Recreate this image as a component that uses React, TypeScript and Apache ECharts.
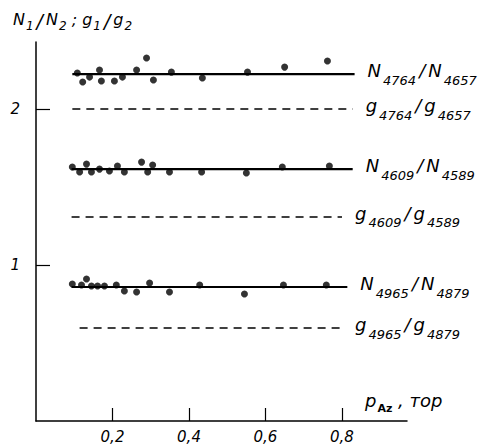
import React, { useEffect, useRef } from "react";
import * as echarts from "echarts";

const F = '"DejaVu Sans", sans-serif';

// measured points (x: pressure, y: ratio)
const n4764X = [0.108, 0.122, 0.14, 0.166, 0.171, 0.205, 0.226, 0.263, 0.289, 0.307, 0.354, 0.435, 0.553, 0.65, 0.762];
const n4764Y = [2.231, 2.173, 2.205, 2.25, 2.18, 2.18, 2.205, 2.25, 2.327, 2.186, 2.237, 2.199, 2.237, 2.269, 2.308];
const n4609X = [0.095, 0.114, 0.132, 0.145, 0.166, 0.192, 0.213, 0.231, 0.276, 0.292, 0.305, 0.349, 0.433, 0.55, 0.644, 0.767];
const n4609Y = [1.628, 1.596, 1.647, 1.596, 1.615, 1.603, 1.635, 1.596, 1.66, 1.596, 1.641, 1.596, 1.596, 1.59, 1.628, 1.635];
const n4965X = [0.095, 0.119, 0.132, 0.145, 0.161, 0.179, 0.21, 0.231, 0.263, 0.297, 0.349, 0.428, 0.545, 0.647, 0.759];
const n4965Y = [0.878, 0.872, 0.91, 0.865, 0.865, 0.865, 0.872, 0.833, 0.827, 0.885, 0.827, 0.872, 0.814, 0.872, 0.872];

// horizontal lines
const lineLevels = [2.224, 2.0, 1.615, 1.308, 0.859, 0.596];
const lineStart = [0.095, 0.095, 0.093, 0.093, 0.093, 0.114];
const lineEnd = [0.833, 0.828, 0.828, 0.8, 0.814, 0.8];
const lineDashed = [false, true, false, true, false, true];
const lineLabels = [
  ["N", "4764", "N", "4657"],
  ["g", "4764", "g", "4657"],
  ["N", "4609", "N", "4589"],
  ["g", "4609", "g", "4589"],
  ["N", "4965", "N", "4879"],
  ["g", "4965", "g", "4879"],
];

const xMin = 0;
const xMax = 0.97;
const xInterval = 0.2;
const yMin = 0;
const yMax = 2.43;
const yInterval = 1;

const base = { fontStyle: "italic", fontWeight: "normal", fontFamily: F, color: "#000", verticalAlign: "top" };
const rich = {
  m: { ...base, fontSize: 18, lineHeight: 21 },
  sl: { ...base, fontSize: 18, lineHeight: 21, padding: [0, 3, 0, 3] },
  s: { ...base, fontSize: 13, padding: [12, 0, 0, 2] },
};

const fmtLabel = (p: string[]) => `{m|${p[0]}}{s|${p[1]}}{sl|/}{m|${p[2]}}{s|${p[3]}}`;
const fmtNum = (v: number) => v.toFixed(1).replace(".", ",");

const zip = (xs: number[], ys: number[]) => xs.map((x, i) => [x, ys[i]]);

export default function App() {
  const ref = useRef<HTMLDivElement>(null);
  useEffect(() => {
    if (!ref.current) return;
    const chart = echarts.init(ref.current, null, { renderer: "svg" });
    const lineSeries = lineLevels.map((lv, i) => ({
      type: "line",
      data: [
        [lineStart[i], lv],
        [lineEnd[i], lv],
      ],
      symbol: "none",
      lineStyle: { color: "#000", width: lineDashed[i] ? 1.4 : 2.2, type: lineDashed[i] ? [8, 6] : "solid" },
      endLabel: {
        show: true,
        distance: 13,
        color: "#000",
        fontWeight: "normal",
        formatter: () => fmtLabel(lineLabels[i]),
        rich,
      },
      silent: true,
      z: 2,
    }));
    const scatter = (xs: number[], ys: number[]) => ({
      type: "scatter",
      data: zip(xs, ys),
      symbol: "circle",
      symbolSize: 7,
      itemStyle: { color: "#000" },
      z: 3,
    });
    chart.setOption({
      animation: false,
      backgroundColor: "#fff",
      title: [
        {
          left: 8,
          top: 6,
          text: "{m|N}{s|1}{sl|/}{m|N}{s|2}{m| ; g}{s|1}{sl|/}{m|g}{s|2}",
          textStyle: {
            fontWeight: "normal",
            rich: {
              m: { ...base, fontSize: 16, lineHeight: 19 },
              sl: { ...base, fontSize: 19, lineHeight: 19, padding: [0, 3, 0, 3] },
              s: { ...base, fontSize: 12, padding: [9, 0, 0, 1] },
            },
          },
        },
        {
          left: 360,
          top: 386,
          text: "{m|p}{b|Az}{m| , тор}",
          textStyle: {
            fontWeight: "normal",
            rich: {
              m: { ...base, fontSize: 18, lineHeight: 20 },
              b: { ...base, fontStyle: "normal", fontSize: 11, fontWeight: "bold", padding: [12, 0, 0, 1] },
            },
          },
        },
      ],
      grid: { left: 36, right: 92, top: 42, bottom: 27, containLabel: false },
      xAxis: {
        type: "value",
        min: xMin,
        max: xMax,
        interval: xInterval,
        splitLine: { show: false },
        axisLine: { show: true, onZero: false, lineStyle: { color: "#000", width: 1.5 } },
        axisTick: { show: true, inside: true, length: 13, lineStyle: { color: "#000", width: 1.2 } },
        axisLabel: {
          showMinLabel: false,
          showMaxLabel: false,
          margin: 8,
          color: "#000",
          fontSize: 15,
          fontStyle: "italic",
          fontFamily: F,
          formatter: fmtNum,
        },
      },
      yAxis: {
        type: "value",
        min: yMin,
        max: yMax,
        interval: yInterval,
        splitLine: { show: false },
        axisLine: { show: true, onZero: false, lineStyle: { color: "#000", width: 1.5 } },
        axisTick: { show: true, inside: true, length: 14, lineStyle: { color: "#000", width: 1.2 } },
        axisLabel: {
          showMinLabel: false,
          showMaxLabel: false,
          margin: 16,
          color: "#000",
          fontSize: 15,
          fontStyle: "italic",
          fontFamily: F,
          formatter: (v: number) => String(v),
        },
      },
      series: [...lineSeries, scatter(n4764X, n4764Y), scatter(n4609X, n4609Y), scatter(n4965X, n4965Y)],
    });
    return () => chart.dispose();
  }, []);
  return <div ref={ref} style={{ position: "fixed", left: 0, top: 0, width: 499, height: 448, background: "#fff" }} />;
}
